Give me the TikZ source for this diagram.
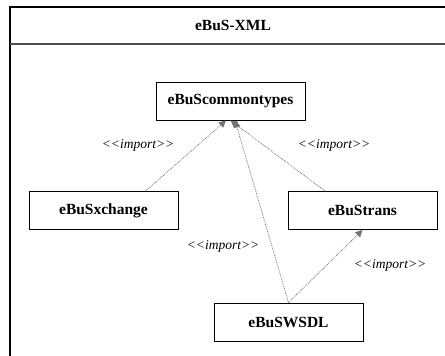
\documentclass[tikz,border=0pt]{standalone}
\usepackage{fontspec}
\setmainfont{Liberation Serif}
\usetikzlibrary{calc,arrows.meta}
\newcommand{\imp}{<{}<import>{}>}
\begin{document}
\begin{tikzpicture}[x=1pt,y=-1pt,
  pkg/.style={draw=black,line width=0.9pt,minimum width=149pt,minimum height=38pt,inner sep=0pt,font=\fontsize{15.5}{18}\selectfont\bfseries,fill=white},
  dep/.style={draw=gray,densely dotted,line width=0.8pt,-{Triangle[length=7pt,width=7pt]},color=gray!90!black},
  lbl/.style={font=\fontsize{13.5}{16}\selectfont\itshape,inner sep=0pt}]
\useasboundingbox (0,0) rectangle (445,356);
% frame
\draw[line width=1.2pt] (445,7) -- (10,7) -- (10,356);
\draw[line width=1.4pt,draw=black!70] (10,44) -- (445,44);
\node[font=\fontsize{15.5}{18}\selectfont\bfseries,inner sep=0pt] (title) at (233,25.5) {eBuS-XML};
% packages
\node[pkg] (ct) at (230.5,101) {eBuScommontypes};
\node[pkg] (xch) at (103.5,210.5) {eBuSxchange};
\node[pkg] (tr) at (362.5,210.5) {eBuStrans};
\node[pkg] (ws) at (288.5,322) {eBuSWSDL};
% dependencies
\draw[dep] ($(xch.north west)!0.78!(xch.north east)$) -- ($(ct.south west)!0.47!(ct.south east)$);
\draw[dep] ($(tr.north west)!0.25!(tr.north east)$) -- ($(ct.south west)!0.50!(ct.south east)$);
\draw[dep] (ws.north) -- ($(ct.south west)!0.53!(ct.south east)$);
\draw[dep] (ws.north) -- (tr.south);
% labels
\node[lbl] (l1) at (138,145) {\imp};
\node[lbl] (l2) at (334,145) {\imp};
\node[lbl] (l3) at (223,246) {\imp};
\node[lbl] (l4) at (390,265) {\imp};
\end{tikzpicture}
\end{document}
